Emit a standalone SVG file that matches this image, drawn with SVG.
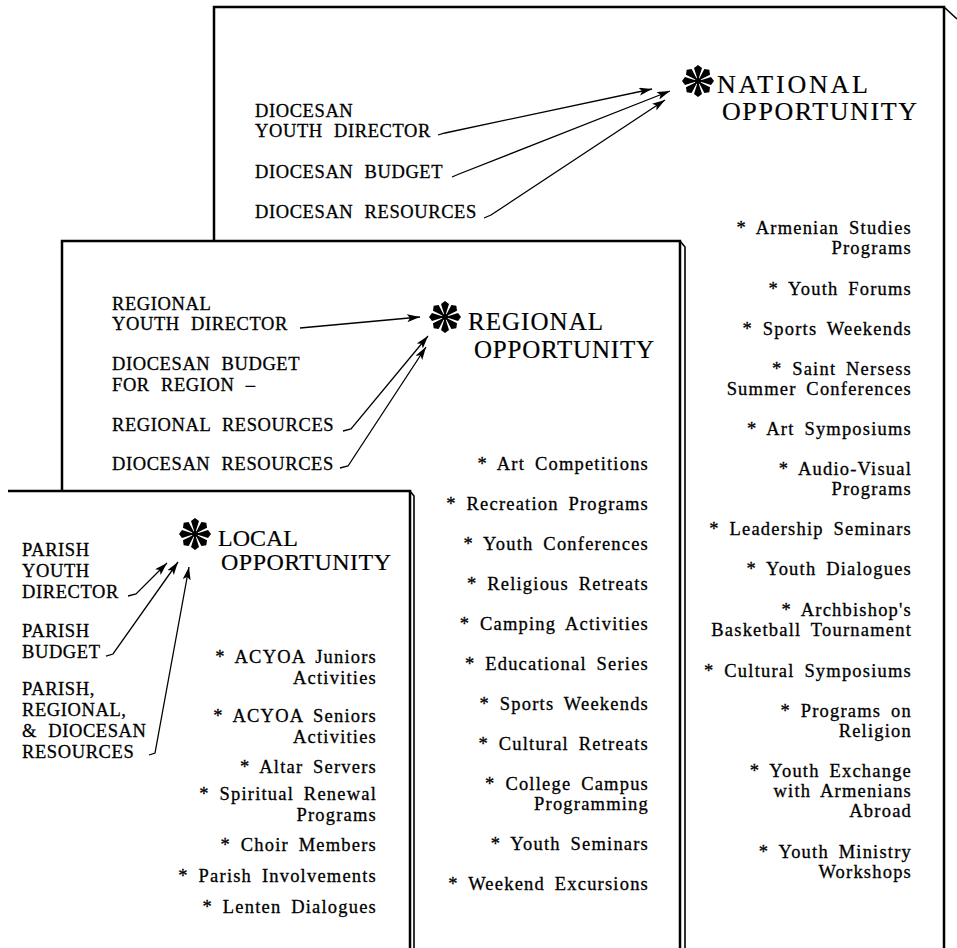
<svg xmlns="http://www.w3.org/2000/svg" xmlns:xlink="http://www.w3.org/1999/xlink" width="957" height="948" viewBox="0 0 957 948">
<style>
.frame{fill:none;stroke:#000;stroke-width:2.5;stroke-linejoin:miter}
.thin{fill:none;stroke:#000;stroke-width:1.6}
text{font-family:"Liberation Serif","Times New Roman",serif;fill:#000;stroke:#000;stroke-width:0.3}
.lbl{font-size:18.5px;letter-spacing:0.6px;word-spacing:6px}
.item{font-size:18.5px;letter-spacing:1.2px;word-spacing:4px;text-anchor:end}
.head{stroke-width:0.2}
.conn{stroke:#000;stroke-width:1.3;fill:none;marker-end:url(#ah)}
.spoke{fill:#000}
</style>
<defs>
<marker id="ah" markerUnits="userSpaceOnUse" markerWidth="14" markerHeight="8" refX="13" refY="4" orient="auto">
<path d="M0,0 L13,4 L0,8 L3,4 Z" fill="#000"/>
</marker>
<path id="sp" class="spoke" d="M0,0 L-1.8,-6 L-4,-13 L0,-16 L4,-13 L1.8,-6 Z"/>
<g id="star">
<use href="#sp" xlink:href="#sp"/>
<use href="#sp" xlink:href="#sp" transform="rotate(45)"/>
<use href="#sp" xlink:href="#sp" transform="rotate(90)"/>
<use href="#sp" xlink:href="#sp" transform="rotate(135)"/>
<use href="#sp" xlink:href="#sp" transform="rotate(180)"/>
<use href="#sp" xlink:href="#sp" transform="rotate(225)"/>
<use href="#sp" xlink:href="#sp" transform="rotate(270)"/>
<use href="#sp" xlink:href="#sp" transform="rotate(315)"/>
<circle r="3" fill="#000"/>
</g>
</defs>
<rect width="957" height="948" fill="#fff"/>

<g id="national">
<path class="frame" d="M214,242 L214,7 L944,7 L944,948"/>
<path class="thin" d="M944,7 L957,19"/>
<use href="#star" xlink:href="#star" x="698" y="81"/>
<text class="head" x="717" y="93" font-size="26" textLength="151">NATIONAL</text>
<text class="head" x="722" y="120" font-size="26" textLength="195">OPPORTUNITY</text>
<text class="lbl" x="255" y="117">DIOCESAN</text>
<text class="lbl" x="255" y="137">YOUTH DIRECTOR</text>
<text class="lbl" x="255" y="178">DIOCESAN BUDGET</text>
<text class="lbl" x="255" y="218">DIOCESAN RESOURCES</text>
<text class="item" x="912" y="234">* Armenian Studies</text>
<text class="item" x="912" y="254">Programs</text>
<text class="item" x="912" y="295">* Youth Forums</text>
<text class="item" x="912" y="335">* Sports Weekends</text>
<text class="item" x="912" y="375">* Saint Nersess</text>
<text class="item" x="912" y="395">Summer Conferences</text>
<text class="item" x="912" y="435">* Art Symposiums</text>
<text class="item" x="912" y="475">* Audio-Visual</text>
<text class="item" x="912" y="495">Programs</text>
<text class="item" x="912" y="535">* Leadership Seminars</text>
<text class="item" x="912" y="575">* Youth Dialogues</text>
<text class="item" x="912" y="616">* Archbishop's</text>
<text class="item" x="912" y="636">Basketball Tournament</text>
<text class="item" x="912" y="677">* Cultural Symposiums</text>
<text class="item" x="912" y="717">* Programs on</text>
<text class="item" x="912" y="737">Religion</text>
<text class="item" x="912" y="777">* Youth Exchange</text>
<text class="item" x="912" y="797">with Armenians</text>
<text class="item" x="912" y="817">Abroad</text>
<text class="item" x="912" y="858">* Youth Ministry</text>
<text class="item" x="912" y="878">Workshops</text>
</g>

<g id="regional">
<path class="frame" d="M62,491 L62,241 L680,241 L680,948"/>
<path class="thin" d="M680,241 L685,247 L685,948"/>
<use href="#star" xlink:href="#star" x="445" y="317"/>
<text class="head" x="468" y="330" font-size="25" textLength="135">REGIONAL</text>
<text class="head" x="474" y="358" font-size="25" textLength="180">OPPORTUNITY</text>
<text class="lbl" x="112" y="310">REGIONAL</text>
<text class="lbl" x="112" y="330">YOUTH DIRECTOR</text>
<text class="lbl" x="112" y="370">DIOCESAN BUDGET</text>
<text class="lbl" x="112" y="391">FOR REGION –</text>
<text class="lbl" x="112" y="431">REGIONAL RESOURCES</text>
<text class="lbl" x="112" y="470">DIOCESAN RESOURCES</text>
<text class="item" x="649" y="470">* Art Competitions</text>
<text class="item" x="649" y="510">* Recreation Programs</text>
<text class="item" x="649" y="550">* Youth Conferences</text>
<text class="item" x="649" y="590">* Religious Retreats</text>
<text class="item" x="649" y="630">* Camping Activities</text>
<text class="item" x="649" y="670">* Educational Series</text>
<text class="item" x="649" y="710">* Sports Weekends</text>
<text class="item" x="649" y="750">* Cultural Retreats</text>
<text class="item" x="649" y="790">* College Campus</text>
<text class="item" x="649" y="810">Programming</text>
<text class="item" x="649" y="850">* Youth Seminars</text>
<text class="item" x="649" y="890">* Weekend Excursions</text>
</g>

<g id="local">
<path class="frame" d="M8,491 L410,491 L410,948"/>
<path class="thin" d="M410,491 L414,496 L414,948"/>
<use href="#star" xlink:href="#star" x="195" y="534"/>
<text class="head" x="218" y="546" font-size="24" textLength="80">LOCAL</text>
<text class="head" x="221" y="570" font-size="24" textLength="170">OPPORTUNITY</text>
<text class="lbl" x="22" y="556">PARISH</text>
<text class="lbl" x="22" y="577">YOUTH</text>
<text class="lbl" x="22" y="598">DIRECTOR</text>
<text class="lbl" x="22" y="637">PARISH</text>
<text class="lbl" x="22" y="658">BUDGET</text>
<text class="lbl" x="22" y="695">PARISH,</text>
<text class="lbl" x="22" y="716">REGIONAL,</text>
<text class="lbl" x="22" y="737">&amp; DIOCESAN</text>
<text class="lbl" x="22" y="758">RESOURCES</text>
<text class="item" x="377" y="663">* ACYOA Juniors</text>
<text class="item" x="377" y="684">Activities</text>
<text class="item" x="377" y="722">* ACYOA Seniors</text>
<text class="item" x="377" y="743">Activities</text>
<text class="item" x="377" y="773">* Altar Servers</text>
<text class="item" x="377" y="800">* Spiritual Renewal</text>
<text class="item" x="377" y="821">Programs</text>
<text class="item" x="377" y="851">* Choir Members</text>
<text class="item" x="377" y="882">* Parish Involvements</text>
<text class="item" x="377" y="913">* Lenten Dialogues</text>
</g>

<g id="connectors">
<polyline class="conn" points="438,135 445,133 652,89"/>
<polyline class="conn" points="452,177 459,174 670,91"/>
<polyline class="conn" points="484,218 491,215 665,100"/>
<polyline class="conn" points="300,328 420,317"/>
<polyline class="conn" points="343,431 351,429 428,336"/>
<polyline class="conn" points="340,468 348,466 426,347"/>
<polyline class="conn" points="128,596 136,594 167,563"/>
<polyline class="conn" points="106,656 113,654 178,562"/>
<polyline class="conn" points="149,755 155,753 189,567"/>
</g>
</svg>
